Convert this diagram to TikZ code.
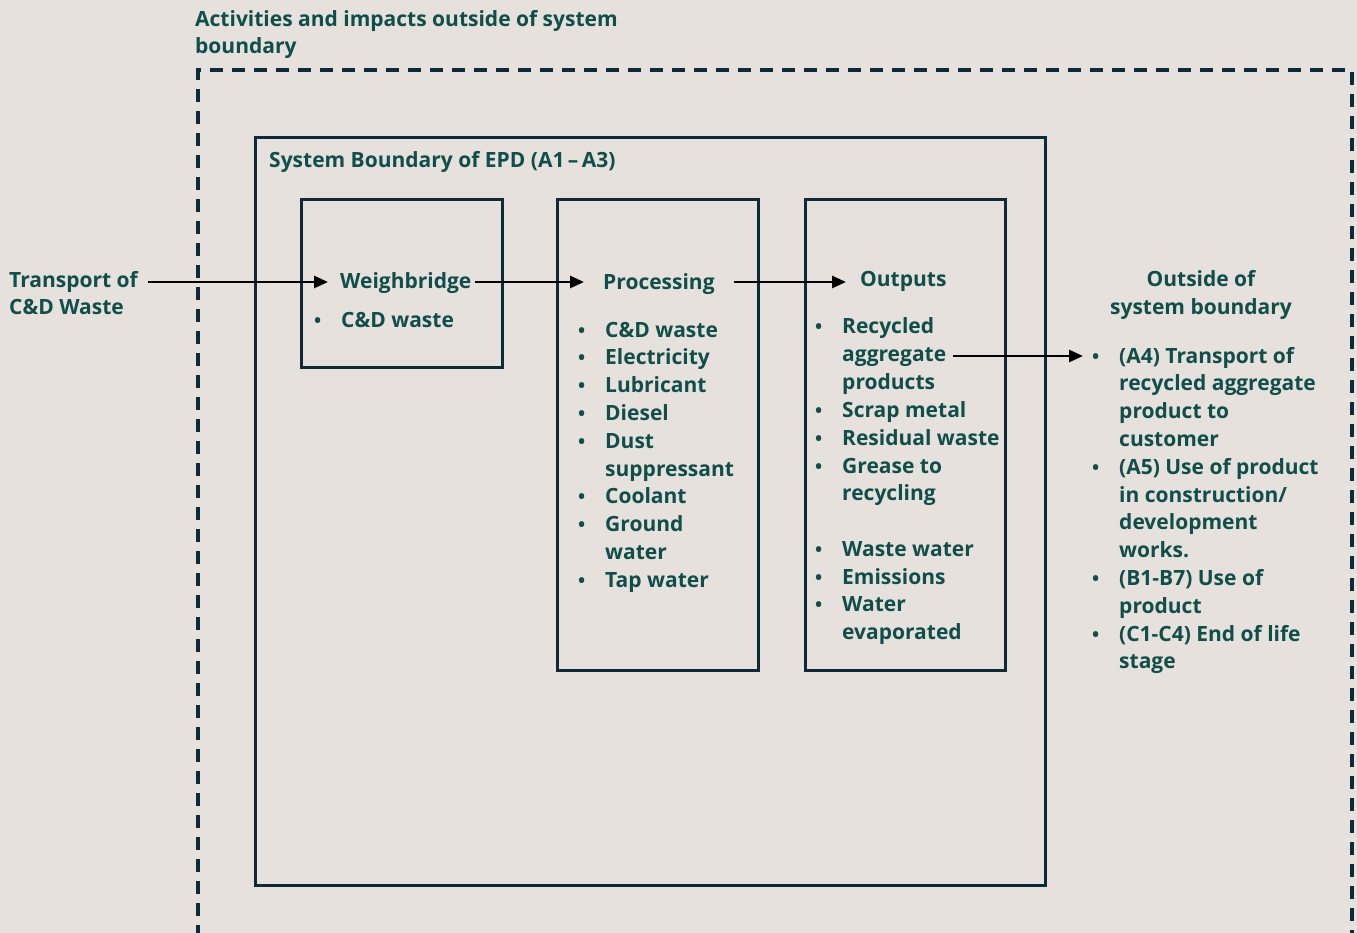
\documentclass[tikz,border=0pt]{standalone}
\usepackage{fontspec}
\setmainfont{Open Sans}
\usetikzlibrary{positioning, arrows.meta}
\definecolor{Paper}{HTML}{E6E1DD}
\definecolor{Teal}{HTML}{104E4A}
\definecolor{Navy}{HTML}{0E2A38}
\newcommand{\bul}{\raisebox{0pt}{\fontsize{19}{19}\selectfont\textbullet}}
\newenvironment{blist}{\begin{tabular}[t]{@{}p{27pt}@{}l@{}}}{\end{tabular}}

\begin{document}
\begin{tikzpicture}[x=1pt, y=-1pt,
    every node/.style={font=\fontsize{21}{27.8}\selectfont\bfseries, text=Teal, inner sep=0pt},
    head/.style={anchor=base west, text height=14pt, text depth=0pt},
    lst/.style={anchor=base west},
    box/.style={draw=Navy, line width=3.2pt, anchor=north west},
    flow/.style={-{Triangle[length=14pt, width=12pt]}, line width=2.8pt, black}
]

% === PAGE ===
\path[use as bounding box, fill=Paper] (0,0) rectangle (1357,933);

% === OUTER (DASHED) BOUNDARY ===
\begin{scope}
\clip (0,0) rectangle (1357,933);
\draw[Navy, line width=3.2pt, dash pattern=on 13pt off 9pt]
    (198,960) -- (198,70) -- (1352,70) -- (1352,960);
\end{scope}
% (base of a multi-line node = its last line)
\node[anchor=base west, align=left] (outertitle) at (195,54)
    {Activities and impacts outside of system\\boundary};

% === SYSTEM BOUNDARY ===
\node[box, minimum width=790pt, minimum height=748pt] (sysbox) at (254,136) {};
\node[anchor=base west] (systitle) at (269,168) {System Boundary of EPD (A1\,--\,A3)};

% Stage boxes
\node[box, minimum width=201pt, minimum height=168pt] (wbbox) at (300,198) {};
\node[box, minimum width=201pt, minimum height=471pt] (procbox) at (556,198) {};
\node[box, minimum width=200pt, minimum height=471pt] (outbox) at (804,198) {};

% Headings
\node[anchor=base west, align=left] (transport) at (9,315) {Transport of\\C\&D Waste};
\node[head] (wbt) at (340,289) {Weighbridge};
\node[head] (proct) at (603,290) {Processing};
\node[head] (outt) at (860,287) {Outputs};
\node[anchor=base, align=center] (outside) at (1201,314) {Outside of\\system boundary};

% Lists
\node[lst] (wblist) at (314,327) {\begin{blist}
\bul & C\&D waste
\end{blist}};

\node[lst] (proclist) at (578,337) {\begin{blist}
\bul & C\&D waste\\
\bul & Electricity\\
\bul & Lubricant\\
\bul & Diesel\\
\bul & Dust\\
     & suppressant\\
\bul & Coolant\\
\bul & Ground\\
     & water\\
\bul & Tap water
\end{blist}};

\node[lst] (outlist) at (815,334) {\begin{blist}
\bul & Recycled\\
     & aggregate\\
     & products\\
\bul & Scrap metal\\
\bul & Residual waste\\
\bul & Grease to\\
     & recycling\\
     & \\
\bul & Waste water\\
\bul & Emissions\\
\bul & Water\\
     & evaporated
\end{blist}};

\node[lst] (restlist) at (1092,363) {\begin{blist}
\bul & (A4) Transport of\\
     & recycled aggregate\\
     & product to\\
     & customer\\
\bul & (A5) Use of product\\
     & in construction/\\
     & development\\
     & works.\\
\bul & (B1-B7) Use of\\
     & product\\
\bul & (C1-C4) End of life\\
     & stage
\end{blist}};

% === FLOWS ===
\coordinate (aggr) at (953,356);
\draw[flow, shorten <=10pt, shorten >=12pt] (transport.east |- wbt.west) -- (wbt.west);
\draw[flow, shorten <=3pt, shorten >=19pt] (wbt.east) -- (wbt.east -| proct.west);
\draw[flow, shorten <=19pt, shorten >=14pt] (proct.east |- wbt.east) -- (wbt.east -| outt.west);
\draw[flow, shorten >=9pt] (aggr) -- (aggr -| restlist.west);

\end{tikzpicture}
\end{document}
